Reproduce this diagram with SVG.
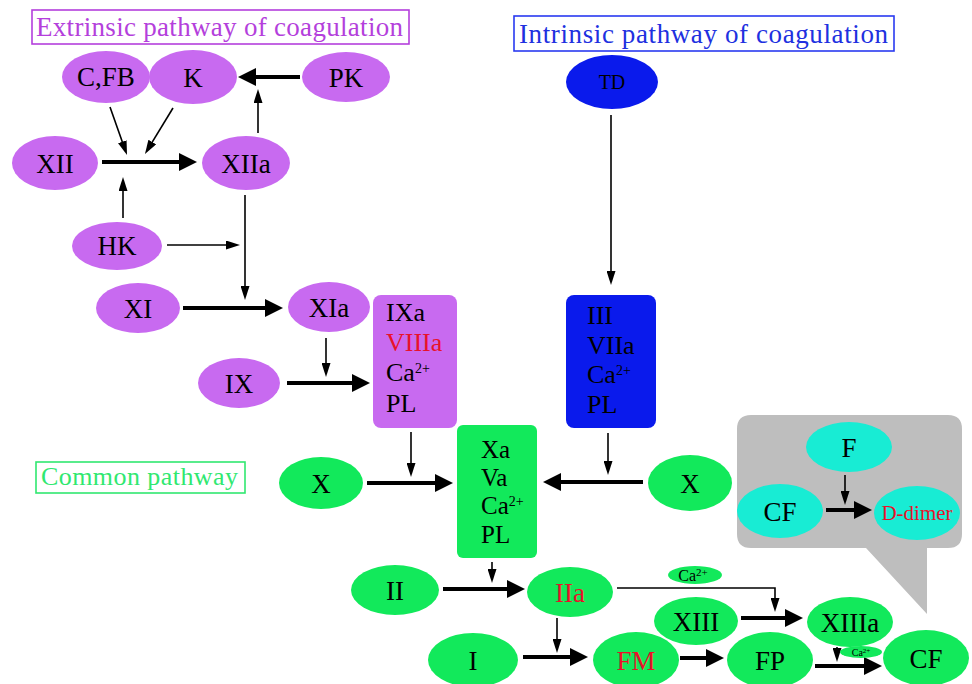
<svg xmlns="http://www.w3.org/2000/svg" width="972" height="684" viewBox="0 0 972 684">
<style>
text{font-family:"Liberation Serif","Times New Roman",serif;fill:#000}
.lbl{font-size:27px;text-anchor:middle}
.pur{fill:#c86af0}
.blu{fill:#0a1aec}
.grn{fill:#12e95b}
.cyn{fill:#18ecd4}
.bx{font-size:26px}
.gx{font-size:25px}
.thick{stroke:#000;stroke-width:4;fill:none;marker-end:url(#hT)}
.thin{stroke:#000;stroke-width:1.6;fill:none;marker-end:url(#hS)}
</style>
<defs>
<marker id="hT" markerUnits="userSpaceOnUse" viewBox="0 0 18 18" markerWidth="18" markerHeight="18" refX="8" refY="9" orient="auto"><path d="M0,0 L18,9 L0,18 z" fill="#000"/></marker>
<marker id="hS" markerUnits="userSpaceOnUse" viewBox="0 0 14 9" markerWidth="14" markerHeight="9" refX="8" refY="4.5" orient="auto"><path d="M0,0 L14,4.5 L0,9 z" fill="#000"/></marker>
</defs>
<rect width="972" height="684" fill="#fff"/>

<g id="title-extrinsic">
<rect x="32" y="10" width="377" height="34" fill="none" stroke="#b43fdc" stroke-width="1.6"/>
<text x="36" y="36" font-size="27" style="fill:#b43fdc" textLength="367" lengthAdjust="spacing">Extrinsic pathway of coagulation</text>
</g>
<g id="title-intrinsic">
<rect x="514" y="16" width="380" height="35" fill="none" stroke="#2a3af0" stroke-width="1.6"/>
<text x="519" y="43" font-size="27" style="fill:#2030e0" textLength="369" lengthAdjust="spacing">Intrinsic pathway of coagulation</text>
</g>
<g id="title-common">
<rect x="36" y="462" width="209" height="31" fill="none" stroke="#30e870" stroke-width="1.6"/>
<text x="41" y="485" font-size="26" style="fill:#30e870" textLength="197" lengthAdjust="spacing">Common pathway</text>
</g>

<g id="callout">
<path d="M751,415 H948 Q962,415 962,429 V534 Q962,548 948,548 H927 V614 L866,548 H751 Q737,548 737,534 V429 Q737,415 751,415 Z" fill="#bebebe"/>
</g>

<g id="connectors">
<line class="thick" x1="300" y1="77" x2="248" y2="77"/>
<line class="thick" x1="102" y1="162" x2="187" y2="162"/>
<line class="thick" x1="183" y1="308" x2="273" y2="308"/>
<line class="thick" x1="287" y1="383" x2="360" y2="383"/>
<line class="thick" x1="367" y1="483" x2="443" y2="483"/>
<line class="thick" x1="643" y1="482" x2="553" y2="482"/>
<line class="thick" x1="443" y1="589" x2="515" y2="589"/>
<line class="thick" x1="523" y1="657" x2="578" y2="657"/>
<line class="thick" x1="680" y1="658" x2="714" y2="658"/>
<line class="thick" x1="741" y1="618" x2="793" y2="618"/>
<line class="thick" x1="815" y1="666" x2="872" y2="666"/>
<line class="thick" x1="826" y1="510" x2="862" y2="510"/>
<line class="thin" x1="110" y1="107" x2="125" y2="149.4"/>
<line class="thin" x1="173" y1="108" x2="148.1" y2="148.9"/>
<line class="thin" x1="123" y1="218" x2="123" y2="183"/>
<line class="thin" x1="258" y1="133" x2="258" y2="95"/>
<line class="thin" x1="167" y1="245" x2="234" y2="245"/>
<line class="thin" x1="245" y1="195" x2="245" y2="294"/>
<line class="thin" x1="326" y1="338" x2="326" y2="371"/>
<line class="thin" x1="611" y1="115" x2="611" y2="279"/>
<line class="thin" x1="608" y1="433" x2="608" y2="469"/>
<line class="thin" x1="411" y1="432" x2="411" y2="471"/>
<line class="thin" x1="492" y1="562" x2="492" y2="577"/>
<polyline class="thin" points="617,588 775,588 775,606"/>
<line class="thin" x1="557" y1="618" x2="557" y2="647"/>
<line class="thin" x1="845" y1="475" x2="845" y2="499"/>
<line class="thin" x1="837" y1="647" x2="837" y2="656"/>
</g>

<g id="n-CFB"><ellipse class="pur" cx="106" cy="77" rx="44" ry="26"/><text class="lbl" x="106" y="86">C,FB</text></g>
<g id="n-K"><ellipse class="pur" cx="193" cy="77" rx="44" ry="27"/><text class="lbl" x="193" y="87">K</text></g>
<g id="n-PK"><ellipse class="pur" cx="346" cy="77" rx="44" ry="25"/><text class="lbl" x="346" y="87">PK</text></g>
<g id="n-XII"><ellipse class="pur" cx="55" cy="163" rx="43" ry="27"/><text class="lbl" x="55" y="173">XII</text></g>
<g id="n-XIIa"><ellipse class="pur" cx="246" cy="163" rx="44" ry="27"/><text class="lbl" x="246" y="173">XIIa</text></g>
<g id="n-HK"><ellipse class="pur" cx="117" cy="246" rx="45" ry="24"/><text class="lbl" x="117" y="255">HK</text></g>
<g id="n-XI"><ellipse class="pur" cx="138" cy="308" rx="42" ry="25"/><text class="lbl" x="138" y="318">XI</text></g>
<g id="n-XIa"><ellipse class="pur" cx="329" cy="307" rx="41" ry="25"/><text class="lbl" x="329" y="317">XIa</text></g>
<g id="n-IX"><ellipse class="pur" cx="239" cy="383" rx="41" ry="25"/><text class="lbl" x="239" y="393">IX</text></g>

<g id="n-IXa-box">
<rect class="pur" x="373" y="295" width="84" height="133" rx="8"/>
<text class="bx" x="386" y="321">IXa</text>
<text class="bx" x="386" y="351" style="fill:#e8122a">VIIIa</text>
<text class="bx" x="386" y="381">Ca<tspan dy="-8" font-size="14">2+</tspan></text>
<text class="bx" x="386" y="412">PL</text>
</g>

<g id="n-TD"><ellipse class="blu" cx="612" cy="82" rx="46" ry="27"/><text class="lbl" x="612" y="89" style="font-size:20px">TD</text></g>
<g id="n-III-box">
<rect class="blu" x="566" y="295" width="90" height="133" rx="8"/>
<text class="bx" x="587" y="324">III</text>
<text class="bx" x="587" y="354">VIIa</text>
<text class="bx" x="587" y="383">Ca<tspan dy="-8" font-size="14">2+</tspan></text>
<text class="bx" x="587" y="413">PL</text>
</g>

<g id="n-Xa-box">
<rect class="grn" x="457" y="425" width="80" height="133" rx="6"/>
<text class="gx" x="481" y="458">Xa</text>
<text class="gx" x="481" y="486">Va</text>
<text class="gx" x="481" y="514">Ca<tspan dy="-8" font-size="14">2+</tspan></text>
<text class="gx" x="481" y="543">PL</text>
</g>

<g id="n-X-left"><ellipse class="grn" cx="321" cy="483" rx="42" ry="26"/><text class="lbl" x="321" y="493">X</text></g>
<g id="n-X-right"><ellipse class="grn" cx="690" cy="483" rx="42" ry="28"/><text class="lbl" x="690" y="493">X</text></g>
<g id="n-II"><ellipse class="grn" cx="395" cy="590" rx="44" ry="25"/><text class="lbl" x="395" y="600">II</text></g>
<g id="n-IIa"><ellipse class="grn" cx="570" cy="592" rx="43" ry="25"/><text class="lbl" x="570" y="602" style="fill:#e8122a">IIa</text></g>
<g id="n-Ca1"><ellipse class="grn" cx="695" cy="575" rx="27" ry="9"/><text x="693" y="581" font-size="16" text-anchor="middle">Ca<tspan dy="-5" font-size="11">2+</tspan></text></g>
<g id="n-XIII"><ellipse class="grn" cx="696" cy="621" rx="42" ry="24"/><text class="lbl" x="696" y="631">XIII</text></g>
<g id="n-XIIIa"><ellipse class="grn" cx="850" cy="622" rx="43" ry="25"/><text class="lbl" x="850" y="632">XIIIa</text></g>
<g id="n-I"><ellipse class="grn" cx="473" cy="660" rx="45" ry="27"/><text class="lbl" x="473" y="670">I</text></g>
<g id="n-FM"><ellipse class="grn" cx="636" cy="660" rx="43" ry="28"/><text class="lbl" x="636" y="670" style="fill:#e8122a">FM</text></g>
<g id="n-FP"><ellipse class="grn" cx="770" cy="660" rx="43" ry="28"/><text class="lbl" x="770" y="670">FP</text></g>
<g id="n-Ca2"><ellipse class="grn" cx="861" cy="652" rx="21" ry="6"/><text x="861" y="656" font-size="10" text-anchor="middle">Ca<tspan dy="-3" font-size="7">2+</tspan></text></g>
<g id="n-CF"><ellipse class="grn" cx="926" cy="658" rx="43" ry="28"/><text class="lbl" x="926" y="668">CF</text></g>

<g id="n-F"><ellipse class="cyn" cx="849" cy="447" rx="43" ry="25"/><text class="lbl" x="849" y="457">F</text></g>
<g id="n-CF-cyan"><ellipse class="cyn" cx="780" cy="511" rx="43" ry="27"/><text class="lbl" x="780" y="521">CF</text></g>
<g id="n-Ddimer"><ellipse class="cyn" cx="917" cy="513" rx="43" ry="27"/><text x="917" y="520" font-size="21" text-anchor="middle" style="fill:#e8122a">D-dimer</text></g>
</svg>
